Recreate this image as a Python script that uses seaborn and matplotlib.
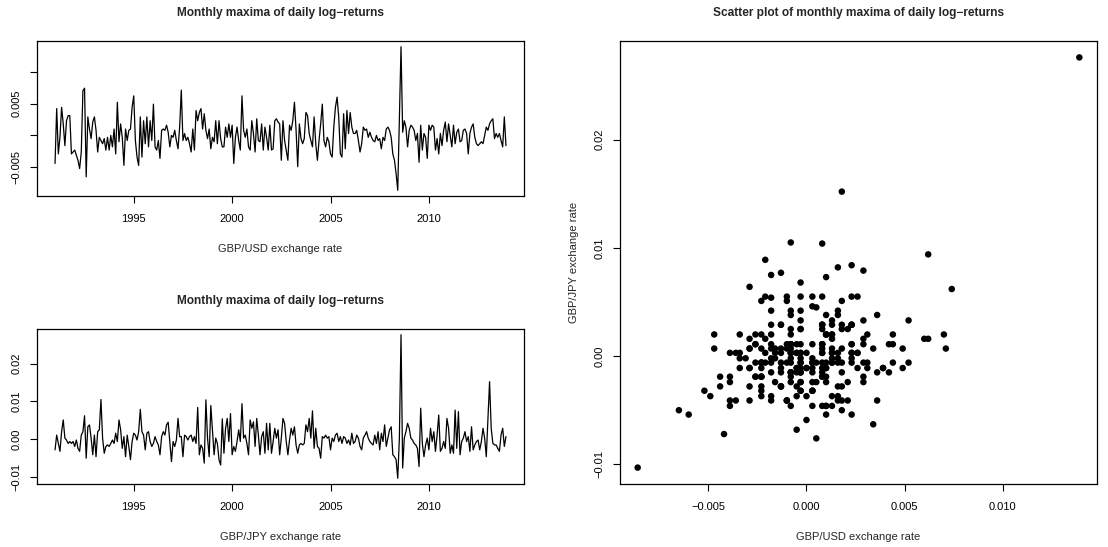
import numpy as np
import pandas as pd
import matplotlib
matplotlib.use("Agg")
import matplotlib.pyplot as plt
import seaborn as sns

# Monthly maxima of daily log-returns, Jan 1991 - Dec 2013 (values in units of 1e-3)
usd_milli = [
    -4.4, 4.2, -2.9, -0.3, 4.4, 1.8, -1.6, 2.3, 3.1, 3.1, -2.9, -2.6,   # 1991
    -2.3, -3.1, -3.9, -5.2, -2.6, 7.0, 7.4, -6.5, 2.9, 1.0, -0.5, 2.1,  # 1992
    2.9, 0.8, -2.6, -0.3, -0.8, -1.3, -0.5, -2.3, -0.3, -2.3, 0.0, -1.8,  # 1993
    1.0, -2.9, 5.2, -1.0, 1.8, -0.3, -4.7, 1.0, -0.8, 0.8, 1.0, 4.4,    # 1994
    6.2, -0.8, -3.4, -4.7, 2.9, -3.4, 2.3, -1.3, 2.9, -1.8, 2.3, -0.8,  # 1995
    4.9, -1.8, -2.3, -0.8, -3.6, 0.8, 1.0, 0.8, 1.6, 0.5, -1.8, 0.0,    # 1996
    -0.3, 0.8, -0.8, -2.1, 1.3, 7.1, -0.8, 0.3, -0.8, -0.3, -1.3, -2.6,  # 1997
    1.0, -2.3, 3.9, 2.3, 3.6, 4.2, 1.0, 3.4, 0.8, -0.5, 1.0, -2.1,      # 1998
    -0.3, -1.0, 2.3, -1.3, 2.3, -0.5, -1.8, -1.8, 1.3, -0.3, 1.8, -0.3,  # 1999
    1.6, -4.4, -0.3, 1.3, -0.8, -2.3, 6.2, 0.8, -0.3, 1.0, -1.8, -2.3,  # 2000
    2.3, 0.3, -2.6, 2.6, -0.8, -1.0, 1.8, -2.3, 1.3, -0.3, -2.3, 1.6,   # 2001
    -2.3, -2.1, 2.3, 2.6, 2.1, 1.8, -3.9, 2.3, -0.8, -2.3, -3.9, 1.6,   # 2002
    0.8, 2.3, 5.2, 0.8, -4.9, 1.8, -0.5, -1.3, -0.5, 3.6, 3.1, 0.3,     # 2003
    -0.8, -1.8, 2.9, -1.3, -3.9, -0.8, 1.8, 4.9, -0.8, -1.8, -0.3, -1.0,  # 2004
    -2.9, -3.4, 1.3, 4.4, 6.0, 2.9, -2.9, -3.4, 3.4, -2.1, 3.9, 0.3,    # 2005
    3.6, 1.3, 0.3, 0.3, 0.8, -0.8, -2.6, -1.3, 1.3, 0.8, 1.0, -0.3,     # 2006
    0.5, -0.3, -0.8, -1.0, 0.0, -0.8, -0.5, -2.1, -0.3, -0.8, 1.0, 1.3,  # 2007
    0.8, -0.3, -2.9, -3.9, -6.0, -8.6, 2.6, 13.9, 0.5, 2.3, 1.3, -1.8,  # 2008
    0.8, 1.6, 1.3, 0.8, -0.8, 0.3, -4.2, 1.6, -2.3, 0.3, -0.3, -3.6,    # 2009
    1.6, 0.8, 1.6, 1.3, -2.3, -0.5, -2.9, 0.3, -1.6, 0.8, 2.1, -1.0,    # 2010
    1.8, 0.0, -1.8, 1.6, -1.3, 0.5, 1.0, -1.0, -0.8, 0.8, 1.0, 0.3,     # 2011
    -2.9, 0.3, 1.3, 1.8, -0.3, -1.3, -1.6, -1.3, -1.0, -1.3, 0.0, 1.3,  # 2012
    0.8, 1.8, 2.3, 2.6, -0.5, 0.3, -0.3, 0.3, -0.8, -1.8, 2.9, -1.6,    # 2013
]

jpy_milli = [
    -2.8, 1.1, -1.1, -3.2, 2.0, 5.1, 0.3, -0.2, -1.1, -0.6, -1.1, -0.6,  # 1991
    -1.9, -0.2, -2.4, -3.2, 1.1, 2.0, 6.2, -5.0, 3.3, 3.8, 0.3, -4.1,   # 1992
    1.1, -4.6, 2.0, 2.5, 10.5, 0.3, -3.7, -1.9, -1.5, -1.9, -1.1, -0.2,  # 1993
    -1.1, 1.6, -0.6, 5.1, 2.5, -2.4, 0.7, -4.6, 1.1, -1.9, -5.4, -0.6,  # 1994
    1.6, 1.1, -0.2, 2.0, 7.9, 2.0, 1.1, -2.8, 1.6, 2.0, -0.6, -1.9,     # 1995
    -1.1, 0.7, -0.6, -1.5, -4.1, 0.7, 2.0, 1.1, 3.8, 4.5, -0.6, -5.9,   # 1996
    -0.6, -1.9, -0.2, 5.5, 0.7, 0.7, -4.6, 1.1, 0.7, -0.2, 0.7, 1.1,    # 1997
    -0.6, 0.7, -1.1, 8.4, -4.1, -1.5, -2.4, -6.3, 10.4, 0.3, -4.6, 8.9,  # 1998
    2.5, -4.1, 0.3, -1.1, -5.4, -6.8, 5.4, -3.7, 2.9, 5.5, -0.6, 6.8,   # 1999
    -4.1, -1.9, -3.2, -0.6, 2.5, -0.6, 9.4, 0.3, 1.1, -1.1, -4.1, 5.1,  # 2000
    2.9, 4.6, -1.9, 5.5, 1.1, -4.1, 0.7, 2.0, -3.7, 4.2, -2.8, 4.2,     # 2001
    -3.7, -0.6, 2.9, 0.3, 2.5, -4.1, 0.3, 5.5, 4.2, -0.6, -4.1, -0.2,   # 2002
    2.9, 1.1, 3.3, -1.5, -3.7, -1.5, -1.1, -1.5, -1.1, 3.8, 2.0, 5.5,   # 2003
    0.3, 7.5, -2.4, 2.9, -1.9, -2.4, -5.0, 0.7, 0.3, 1.1, 0.3, 0.7,     # 2004
    -2.8, 0.3, -0.6, 1.1, 1.6, -0.6, 0.7, -1.1, 0.7, 0.3, -1.1, -0.2,   # 2005
    -1.5, 1.6, -1.1, -0.6, 1.1, 0.3, -1.9, -2.8, 0.3, 1.1, 2.0, 0.3,    # 2006
    -0.6, -1.1, -1.5, 1.1, -1.1, 2.0, -2.8, 1.6, -0.6, 3.8, -1.9, 0.3,  # 2007
    2.5, 3.3, -4.1, -4.6, -5.4, -10.3, 0.3, 27.6, -7.6, 0.3, 2.0, 4.2,  # 2008
    2.9, 0.3, -0.2, -1.1, -1.5, -2.4, -7.2, 8.2, -1.1, -4.6, -1.5, 0.3,  # 2009
    -2.8, 2.9, -0.6, 2.0, -3.2, 1.1, 6.4, -3.2, -2.4, -0.6, -2.4, 5.5,  # 2010
    2.9, -3.7, -1.5, -3.7, 7.7, -2.4, 7.3, -4.1, -0.6, 0.3, 2.0, -0.6,  # 2011
    0.7, -3.2, 3.3, -2.8, -1.5, -0.6, -0.2, -2.8, -0.6, 2.9, 0.3, -4.6,  # 2012
    5.5, 15.2, 2.9, -1.1, -1.5, -1.5, -2.4, -3.2, 1.1, 2.9, -1.9, 0.7,  # 2013
]

start_year = 1991
year_ticks = [1995, 2000, 2005, 2010]
usd_ticks = [-0.005, 0.0, 0.005, 0.010]
usd_tick_labels = ["\u22120.005", "", "0.005", ""]
jpy_ticks = [-0.01, 0.0, 0.01, 0.02]
jpy_tick_labels = ["\u22120.01", "0.00", "0.01", "0.02"]
scatter_x_labels = ["\u22120.005", "0.000", "0.005", "0.010"]

title_ts = "Monthly maxima of daily log\u2212returns"
title_sc = "Scatter plot of monthly maxima of daily log\u2212returns"
label_usd = "GBP/USD exchange rate"
label_jpy = "GBP/JPY exchange rate"

df = pd.DataFrame({"usd": np.array(usd_milli) / 1000.0,
                   "jpy": np.array(jpy_milli) / 1000.0})
df["time"] = start_year + np.arange(len(df)) / 12.0

sns.set_theme(style="white")
plt.rcParams["font.family"] = ["Liberation Sans", "DejaVu Sans"]
plt.rcParams["axes.unicode_minus"] = True


def rlim(v):
    # R style axis range: data range extended by 4% on each side
    lo, hi = np.min(v), np.max(v)
    r = hi - lo
    return lo - 0.04 * r, hi + 0.04 * r


def r_style(ax):
    for s in ax.spines.values():
        s.set_visible(True)
        s.set_color("black")
        s.set_linewidth(0.9)
    ax.tick_params(axis="both", direction="out", length=5, width=0.8,
                   colors="black", labelsize=8, left=True, bottom=True)
    ax.tick_params(axis="x", pad=8)
    ax.tick_params(axis="y", pad=6)
    ax.grid(False)
    ax.set_facecolor("white")


W, H = 1108, 547
fig = plt.figure(figsize=(W / 100, H / 100), dpi=100)


def add_ax(x0, y0, x1, y1):
    return fig.add_axes([x0 / W, 1 - y1 / H, (x1 - x0) / W, (y1 - y0) / H])


ax1 = add_ax(37, 41, 524, 196)
ax2 = add_ax(37, 329, 524, 484)
ax3 = add_ax(620, 41, 1097, 484)

# time series panels
for ax, col, ticks, labels, xlab in [
    (ax1, "usd", usd_ticks, usd_tick_labels, label_usd),
    (ax2, "jpy", jpy_ticks, jpy_tick_labels, label_jpy),
]:
    sns.lineplot(data=df, x="time", y=col, ax=ax, color="black",
                 linewidth=0.9, estimator=None, sort=False)
    ax.set_xlim(*rlim(df["time"]))
    ax.set_ylim(*rlim(df[col]))
    ax.set_xticks(year_ticks)
    ax.set_xticklabels([str(y) for y in year_ticks])
    ax.set_yticks(ticks)
    ax.set_yticklabels(labels, rotation=90, va="center")
    ax.set_xlabel(xlab, fontsize=8, labelpad=14)
    ax.set_ylabel("")
    ax.set_title(title_ts, fontsize=8.6, fontweight="bold", pad=18)
    r_style(ax)

# scatter panel
sns.scatterplot(data=df, x="usd", y="jpy", ax=ax3, color="black", s=22,
                edgecolor="none")
ax3.set_xlim(*rlim(df["usd"]))
ax3.set_ylim(*rlim(df["jpy"]))
ax3.set_xticks(usd_ticks)
ax3.set_xticklabels(scatter_x_labels)
ax3.set_yticks(jpy_ticks)
ax3.set_yticklabels(jpy_tick_labels, rotation=90, va="center")
ax3.set_xlabel(label_usd, fontsize=8, labelpad=14)
ax3.set_ylabel(label_jpy, fontsize=8, labelpad=11)
ax3.set_title(title_sc, fontsize=8.6, fontweight="bold", pad=18)
r_style(ax3)

fig.savefig("out.png", dpi=100, facecolor="white")
